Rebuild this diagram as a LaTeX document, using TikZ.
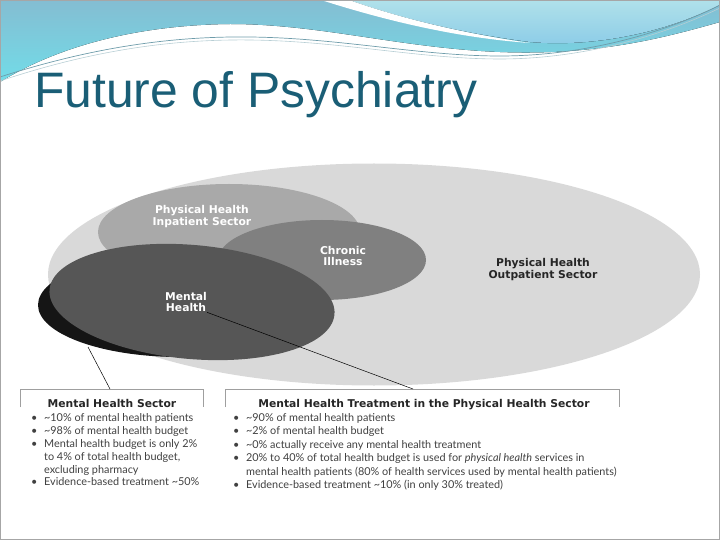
\documentclass[tikz,border=0pt]{standalone}
\usepackage{fontspec}
\setmainfont{Liberation Sans}
\newfontfamily\latofont{Lato}
\newfontfamily\heavyfont{DejaVu Sans}
\usetikzlibrary{positioning}

\definecolor{titleteal}{HTML}{1A5E76}
\definecolor{wavetop}{HTML}{84BDD2}
\definecolor{wavecyan}{HTML}{72DCE8}
\definecolor{wavelight}{HTML}{B0E1EA}
\definecolor{waveblue}{HTML}{8ACBE7}
\definecolor{waveline}{HTML}{6E9CAA}
\definecolor{outgray}{HTML}{D9D9D9}
\definecolor{ingray}{HTML}{A9A9A9}
\definecolor{chrgray}{HTML}{808080}
\definecolor{mhgray}{HTML}{565656}
\definecolor{mhblack}{HTML}{151515}

\tikzset{
  lbl/.style={font=\heavyfont\bfseries\fontsize{10.8}{12}\selectfont, text=white, align=center, inner sep=0pt},
  boxtitle/.style={font=\heavyfont\bfseries\fontsize{10.8}{12}\selectfont, text=black!85, inner sep=0pt, anchor=base},
  listtext/.style={align=left, inner sep=0pt, anchor=north west, text=black!75},
  boxline/.style={gray!75, line width=0.8pt},
  conn/.style={black, line width=0.5pt}
}
\newcommand{\blt}{\makebox[13pt][l]{\textbullet}}

\begin{document}
\begin{tikzpicture}[x=1bp, y=-1bp]
  \useasboundingbox (0,0) rectangle (720,540);
  % header wave
  \fill[top color=wavetop, bottom color=wavecyan] (0,0) -- (0,82) .. controls (60,45) and (140,25) .. (230,24) .. controls (320,24) and (400,48) .. (500,52) .. controls (600,56) and (670,36) .. (720,22) -- (720,0) -- cycle;
  \fill[top color=wavelight, bottom color=waveblue] (349,0) .. controls (400,18) and (460,33) .. (530,42) .. controls (600,48) and (670,30) .. (720,5) -- (720,0) -- cycle;
  \fill[white] (321,0) .. controls (390,22) and (460,38) .. (530,43) .. controls (460,33) and (400,18) .. (349,0) -- cycle;
  \draw[waveline, line width=0.7pt] (0,77) .. controls (90,48) and (170,36) .. (250,37) .. controls (340,38) and (420,56) .. (500,56) .. controls (580,56) and (660,35) .. (720,5);
  \draw[waveline!50, line width=0.6pt] (0,81) .. controls (90,51) and (170,39) .. (250,40) .. controls (340,41) and (420,59) .. (500,59) .. controls (580,59) and (660,37) .. (720,8);
  \draw[gray!70, line width=1pt] (0.5,0.5) rectangle (719.5,539.5);

  \node[font=\fontsize{50}{60}\selectfont, text=titleteal, anchor=base west, inner sep=0pt] (title) at (34,108) {Future of Psychiatry};

  % sectors
  \fill[outgray] (374,274.5) ellipse [x radius=326, y radius=111];
  \fill[ingray] (229,232) ellipse [x radius=131, y radius=48];
  \fill[chrgray] (322,260) ellipse [x radius=104, y radius=40];
  \fill[mhblack] (180,305) ellipse [x radius=142, y radius=52];
  \fill[mhgray, rotate around={-5:(192,302)}] (192,302) ellipse [x radius=143, y radius=57];

  \node[lbl] (inlbl) at (202,217) {Physical Health\\Inpatient Sector};
  \node[lbl] (chrlbl) at (343,256) {Chronic\\Illness};
  \node[lbl, text=black!85] (outlbl) at (543,270) {Physical Health\\Outpatient Sector};
  \node[lbl] (mhlbl) at (186,302) {Mental\\Health};

  % boxes
  \draw[boxline] (20.5,407) |- (203,389) -- (203,407);
  \draw[boxline] (225,407) |- (619,389) -- (619,407);
  \coordinate (blackedge) at (88,347);
  \coordinate (leftboxtop) at (110,389);
  \coordinate (rightboxtop) at (413,389);
  \draw[conn] (blackedge) -- (leftboxtop);
  \draw[conn] (mhlbl.south east) -- (rightboxtop);

  \node[boxtitle] (lefttitle) at (112,407.5) {Mental Health Sector};
  \node[boxtitle] (righttitle) at (424,407.5) {Mental Health Treatment in the Physical Health Sector};

  \node[listtext, font=\latofont\fontsize{10.9}{13}\selectfont] (leftlist) at (31,413) {%
    \blt\textasciitilde10\% of mental health patients\\
    \blt\textasciitilde98\% of mental health budget\\
    \blt Mental health budget is only 2\%\\
    \hspace*{13pt}to 4\% of total health budget,\\
    \hspace*{13pt}excluding pharmacy\\
    \blt Evidence-based treatment \textasciitilde50\%};
  \node[listtext, font=\latofont\fontsize{10.9}{13.6}\selectfont] (rightlist) at (233,413) {%
    \blt\textasciitilde90\% of mental health patients\\
    \blt\textasciitilde2\% of mental health budget\\
    \blt\textasciitilde0\% actually receive any mental health treatment\\
    \blt 20\% to 40\% of total health budget is used for {\itshape physical health} services in\\
    \hspace*{13pt}mental health patients (80\% of health services used by mental health patients)\\
    \blt Evidence-based treatment \textasciitilde10\% (in only 30\% treated)};
\end{tikzpicture}
\end{document}
